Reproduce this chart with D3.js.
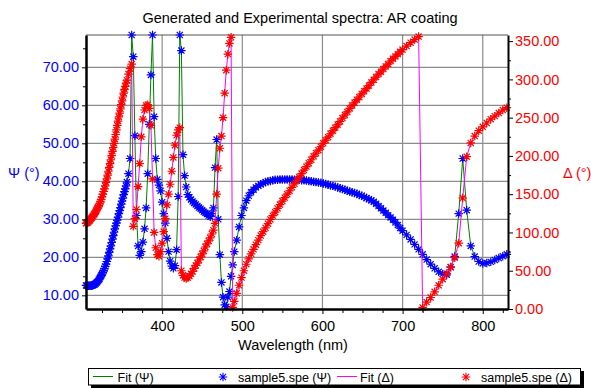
<!DOCTYPE html>
<html>
<head>
<meta charset="utf-8">
<script src="https://d3js.org/d3.v7.min.js"></script>
<style>
  body { margin: 0; background: #fff; }
  svg { display: block; font-family: "Liberation Sans", Arial, sans-serif; }
</style>
</head>
<body>
<script>
// wavelength (nm) of each measured point
const wavelength = [
  305, 306, 307, 308, 309, 310, 311, 312, 313, 314, 315, 316, 317, 318, 319, 320, 321,
  322, 323, 324, 325, 326, 327, 328, 329, 330, 331, 332, 333, 334, 335, 336, 337, 338,
  339, 340, 341, 342, 343, 344, 345, 346, 347, 348, 349, 350, 351, 352, 353, 354, 355,
  356, 358, 360, 362, 364, 366, 368, 370, 372, 374, 376, 378, 380, 382, 384, 386, 388,
  390, 392, 394, 396, 398, 400, 402, 404, 406, 408, 410, 412, 414, 416, 418, 420, 422,
  424, 426, 428, 430, 432, 434, 436, 438, 440, 442, 444, 446, 448, 450, 452, 454, 456,
  458, 460, 462, 464, 466, 468, 470, 472, 474, 476, 478, 480, 482, 484, 486, 488,
  490, 493, 496, 499, 502, 505, 508, 511, 514, 517, 520, 523, 526, 529, 532, 535, 538,
  541, 544, 547, 550, 553, 556, 559, 562, 565, 568, 571, 574, 577, 580, 583, 586, 589,
  592, 595, 598, 601, 604, 607, 610, 613, 616, 619, 622, 625, 628, 631, 634, 637, 640,
  643, 646, 649, 652, 655, 658, 661, 664, 667, 670, 673, 676, 679, 682, 685, 688, 691,
  694, 697, 700,
  705, 710, 715, 720, 725, 730, 735, 740, 745, 750, 755, 760, 765, 770, 775, 780, 785,
  790, 795, 800, 805, 810, 815, 820, 825, 830
];

// sample5.spe, Psi (deg)
const psiMeasured = [
  12.6, 12.6, 12.5, 12.5, 12.5, 12.5, 12.5, 12.6, 12.6, 12.7, 12.8, 12.9, 13.1, 13.3, 13.5, 13.8, 14.1,
  14.4, 14.8, 15.2, 15.6, 16.0, 16.5, 17.0, 17.6, 18.2, 18.9, 19.6, 20.4, 21.3, 22.2, 23.0, 23.9, 24.8,
  25.7, 26.6, 27.5, 28.3, 29.0, 29.8, 30.6, 31.5, 32.3, 33.1, 34.0, 34.8, 35.6, 36.5, 37.3, 38.0, 38.8,
  39.8, 42.0, 46.0, 82.0, 72.8, 52.0, 31.0, 23.0, 20.5, 21.5, 24.0, 27.5, 33.0, 42.0, 55.0, 68.0, 82.0,
  57.0, 46.0, 40.5, 39.0, 37.5, 34.5, 31.5, 29.0, 25.0, 21.5, 19.0, 17.7, 17.1, 17.8, 22.0, 36.0, 82.0,
  74.4, 47.0, 41.5, 38.5, 36.5, 35.8, 35.2, 34.7, 34.3, 33.9, 33.5, 33.1, 32.8, 32.4, 32.0, 31.7, 31.4,
  31.0, 30.7, 31.5, 33.0, 43.6, 51.0, 30.0, 20.7, 13.4, 9.5, 7.5, 7.0, 9.5, 11.0, 15.0, 18.0,
  21.5, 24.5, 28.0, 31.0, 33.0, 34.9, 36.2, 37.1, 37.8, 38.4, 38.8, 39.2, 39.5, 39.8, 40.0, 40.1, 40.3,
  40.4, 40.4, 40.5, 40.5, 40.5, 40.5, 40.5, 40.5, 40.4, 40.4, 40.4, 40.3, 40.3, 40.2, 40.1, 40.0, 39.9,
  39.8, 39.7, 39.6, 39.4, 39.3, 39.1, 38.9, 38.8, 38.6, 38.4, 38.2, 38.0, 37.8, 37.5, 37.3, 37.1, 36.9,
  36.7, 36.4, 36.2, 35.9, 35.6, 35.3, 35.0, 34.6, 34.1, 33.5, 32.9, 32.3, 31.7, 31.1, 30.5, 29.9, 29.2,
  28.5, 27.7, 27.0,
  25.9, 24.7, 23.4, 22.1, 20.8, 19.4, 18.2, 17.1, 16.2, 15.6, 15.4, 17.4, 20.2, 31.5, 46.0, 32.4, 23.0,
  20.2, 18.9, 18.4, 18.5, 18.8, 19.3, 19.8, 20.3, 20.8
];

// sample5.spe, Delta (deg)
const deltaMeasured = [
  112, 112.5, 113, 114, 115, 116, 118, 119, 120.5, 122, 123.5, 125, 127, 129, 131, 133, 135,
  137.5, 140, 143, 146.5, 150, 153.5, 157, 161, 165.5, 170, 175, 180, 185, 190, 195, 200.5, 206,
  211, 216.5, 222, 228, 234, 240, 245.5, 251, 256, 261.5, 267, 272, 277, 282, 287, 291, 295,
  299, 307, 314, 320, 108, 118, 130, 160, 190, 225, 248, 260, 266, 267, 262, 240, 170,
  100, 80, 71, 69, 75, 86, 101, 118, 136, 150, 163, 180, 198, 214, 227, 234, 237,
  50, 44, 41, 40, 41, 43, 46, 49, 53, 57, 60, 64, 68, 72, 76, 81, 85,
  89, 93, 98, 103, 112, 150, 184, 210, 226, 250, 282, 312, 333, 347, 355, 2,
  10, 20.5, 31, 41, 50, 58.5, 65.5, 72, 78, 84, 90, 96, 101, 106, 111.5, 117, 122,
  126.5, 131.5, 136.5, 141, 145.5, 150, 154.5, 159, 163.5, 168, 172.5, 177, 181.5, 186, 190.5, 195, 199.5,
  203.5, 207.5, 212, 216.5, 220.5, 224.5, 229, 233, 237, 241, 245, 249.5, 253.5, 257.5, 262, 266, 269.5,
  273.5, 277, 281, 284.5, 288, 292, 296, 299.5, 303, 307, 310, 313.5, 317, 320, 324, 327, 330,
  333, 336, 339,
  343.5, 348, 352, 356, 2, 9, 15, 22.5, 31, 39, 46.5, 55, 67, 86, 145, 199, 217,
  226, 233, 238, 243, 248, 252, 256, 260, 263
];

// the fitted model lies on the measured points as far as the plot can be read
const psiFit = psiMeasured;
const deltaFit = deltaMeasured;

const psiTicks = [10, 20, 30, 40, 50, 60, 70];
const psiMinor = [15, 25, 35, 45, 55, 65, 75];
const deltaTicks = [0, 50, 100, 150, 200, 250, 300, 350];
const deltaMinor = [25, 75, 125, 175, 225, 275, 325];
const wlTicks = [400, 500, 600, 700, 800];
const wlMinor = [325, 350, 375, 425, 450, 475, 525, 550, 575, 625, 650, 675, 725, 750, 775, 825];

const legendLabels = ["Fit (\u03A8)", "sample5.spe (\u03A8)", "Fit (\u0394)", "sample5.spe (\u0394)"];

const W = 591, H = 388;
const box = { left: 86, right: 508, top: 35, bottom: 309 };
const BLUE = "#0000ff", RED = "#ff0000", GREEN = "#008000", MAGENTA = "#ff00ff";

const svg = d3.select("body").append("svg").attr("width", W).attr("height", H);

const x = d3.scaleLinear().domain([305, 831.5]).range([box.left, box.right]);
const yPsi = d3.scaleLinear().domain([6.4, 78.5]).range([box.bottom, box.top]).clamp(true);
const yDelta = d3.scaleLinear().domain([0, 358]).range([box.bottom, box.top]).clamp(true);

// grid
const grid = svg.append("g").attr("stroke", "#8c8c8c").attr("stroke-width", 1.2);
grid.selectAll("line.h").data(psiTicks).join("line")
  .attr("x1", box.left).attr("x2", box.right)
  .attr("y1", d => yPsi(d)).attr("y2", d => yPsi(d));
grid.selectAll("line.v").data(wlTicks).join("line")
  .attr("y1", box.top).attr("y2", box.bottom)
  .attr("x1", d => x(d)).attr("x2", d => x(d));
svg.append("line").attr("x1", box.left).attr("x2", box.right)
  .attr("y1", box.top).attr("y2", box.top).attr("stroke", "#555").attr("stroke-width", 1);

// asterisk marker
const asterisk = {
  draw(ctx, size) {
    const r = Math.sqrt(size) / 2, d = r * 0.72;
    ctx.moveTo(-r, 0); ctx.lineTo(r, 0);
    ctx.moveTo(0, -r); ctx.lineTo(0, r);
    ctx.moveTo(-d, -d); ctx.lineTo(d, d);
    ctx.moveTo(-d, d); ctx.lineTo(d, -d);
  }
};
const marker = d3.symbol().type(asterisk).size(72);

const psiData = wavelength.map((w, i) => ({ w, v: psiMeasured[i], f: psiFit[i] }));
const deltaData = wavelength.map((w, i) => ({ w, v: deltaMeasured[i], f: deltaFit[i] }));

const lineFor = y => d3.line().x(d => x(d.w)).y(d => y(d.f));

svg.append("path").datum(psiData).attr("d", lineFor(yPsi))
  .attr("fill", "none").attr("stroke", GREEN).attr("stroke-width", 1);
svg.append("g").selectAll("path").data(psiData).join("path")
  .attr("transform", d => `translate(${x(d.w)},${yPsi(d.v)})`)
  .attr("d", marker).attr("fill", "none").attr("stroke", BLUE).attr("stroke-width", 1.2);

svg.append("path").datum(deltaData).attr("d", lineFor(yDelta))
  .attr("fill", "none").attr("stroke", MAGENTA).attr("stroke-width", 1);
svg.append("g").selectAll("path").data(deltaData).join("path")
  .attr("transform", d => `translate(${x(d.w)},${yDelta(d.v)})`)
  .attr("d", marker).attr("fill", "none").attr("stroke", RED).attr("stroke-width", 1.2);

// axes
const fmt = d3.format(".2f");
function styleAxis(g, color, width) {
  g.select(".domain").attr("stroke", "#000").attr("stroke-width", width);
  g.selectAll(".tick line").attr("stroke", "#000");
  g.selectAll("text").attr("fill", color).attr("font-size", "14.5px").attr("font-family", null);
}

const leftAx = svg.append("g").attr("transform", `translate(${box.left},0)`)
  .call(d3.axisLeft(yPsi).tickValues(psiTicks).tickFormat(fmt).tickSize(4).tickSizeOuter(0).tickPadding(3));
styleAxis(leftAx, BLUE, 2.5);
svg.append("g").attr("transform", `translate(${box.left},0)`)
  .call(d3.axisLeft(yPsi).tickValues(psiMinor).tickFormat("").tickSize(3).tickSizeOuter(0))
  .call(g => g.select(".domain").remove());

const rightAx = svg.append("g").attr("transform", `translate(${box.right},0)`)
  .call(d3.axisRight(yDelta).tickValues(deltaTicks).tickFormat(fmt).tickSize(5).tickSizeOuter(0).tickPadding(2));
styleAxis(rightAx, RED, 2);
svg.append("g").attr("transform", `translate(${box.right},0)`)
  .call(d3.axisRight(yDelta).tickValues(deltaMinor).tickFormat("").tickSize(3).tickSizeOuter(0))
  .call(g => g.select(".domain").remove());

const bottomAx = svg.append("g").attr("transform", `translate(0,${box.bottom})`)
  .call(d3.axisBottom(x).tickValues(wlTicks).tickFormat(d3.format("d")).tickSize(5).tickSizeOuter(0).tickPadding(7));
styleAxis(bottomAx, "#000", 2.5);
svg.append("g").attr("transform", `translate(0,${box.bottom})`)
  .call(d3.axisBottom(x).tickValues(wlMinor).tickFormat("").tickSize(4).tickSizeOuter(0))
  .call(g => g.select(".domain").remove());

// titles
svg.append("text").attr("x", 300).attr("y", 23).attr("text-anchor", "middle")
  .attr("font-size", "14.5px").attr("fill", "#000")
  .text("Generated and Experimental spectra: AR coating");
svg.append("text").attr("x", 293).attr("y", 350).attr("text-anchor", "middle")
  .attr("font-size", "14.5px").attr("fill", "#000").text("Wavelength (nm)");
svg.append("text").attr("x", 8).attr("y", 178).attr("font-size", "14.5px")
  .attr("fill", BLUE).text("\u03A8 (\u00B0)");
svg.append("text").attr("x", 563).attr("y", 178).attr("font-size", "14.5px")
  .attr("fill", RED).text("\u0394 (\u00B0)");

// legend
const lg = svg.append("g");
lg.append("rect").attr("x", 91).attr("y", 371).attr("width", 493).attr("height", 17).attr("fill", "#000");
lg.append("rect").attr("x", 88.5).attr("y", 368.5).attr("width", 492).attr("height", 16.5)
  .attr("fill", "#fff").attr("stroke", "#000").attr("stroke-width", 1);
const legendKeys = [
  { kind: "line", color: GREEN, at: 93, tx: 117.5 },
  { kind: "mark", color: BLUE, at: 223, tx: 238 },
  { kind: "line", color: MAGENTA, at: 337, tx: 360 },
  { kind: "mark", color: RED, at: 466, tx: 481 }
];
legendKeys.forEach((k, i) => {
  if (k.kind === "line") {
    lg.append("line").attr("x1", k.at).attr("x2", k.at + 20).attr("y1", 376.5).attr("y2", 376.5)
      .attr("stroke", k.color).attr("stroke-width", 1);
  } else {
    lg.append("path").attr("transform", `translate(${k.at},377)`).attr("d", marker)
      .attr("fill", "none").attr("stroke", k.color).attr("stroke-width", 1.1);
  }
  lg.append("text").attr("x", k.tx).attr("y", 381.5).attr("font-size", "12.5px")
    .attr("fill", "#000").text(legendLabels[i]);
});
</script>
</body>
</html>
